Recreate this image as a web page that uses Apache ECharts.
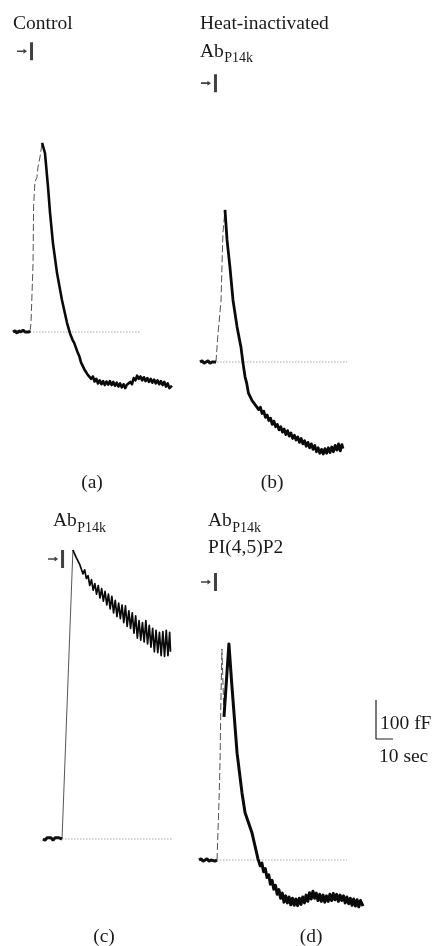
<!DOCTYPE html>
<html><head><meta charset="utf-8">
<script src="https://cdn.jsdelivr.net/npm/echarts@6/dist/echarts.min.js"></script>
<style>html,body{margin:0;padding:0;background:#fff}#c{width:432px;height:946px}</style>
</head><body><div id="c"></div>
<script>
// ---------- DATA (time in s from trace start, capacitance change in fF from baseline) ----------
const baseA = [[0,0],[1.2,3],[2.4,-3],[3.5,3],[4.7,0],[5.9,5],[7.1,0],[8.2,3],[9.4,0],[10,3]];
const riseA = [[10,3],[10.6,23],[11.8,177],[12.1,321],[12.9,385],[14.1,397],[14.7,423],[15.9,449],[17.1,485]];
const decayA = [[17.1,485],[18.8,459],[20.6,372],[21.8,305],[23.5,228],[25.9,151],[28.8,82],[31.8,23],[33.5,-3],
  [35,-20],[36,-28],[37,-40],[38,-52],[39,-62],[40,-78],[41,-80],[42,-96],[43,-94],[44,-110],[45,-106],[46,-120],
  [47,-114],[48,-127],[49,-120],[50,-132],[51,-124],[52,-134],[53,-126],[54,-136],[55,-127],[56,-135],[57,-126],
  [58,-136],[59,-128],[60,-138],[61,-130],[62,-140],[63,-132],[64,-142],[65,-134],[66,-144],[67,-135],[68,-140],
  [69,-128],[70,-134],[71,-118],[72,-124],[73,-112],[74,-120],[75,-114],[76,-124],[77,-116],[78,-126],[79,-118],
  [80,-128],[81,-120],[82,-130],[83,-122],[84,-132],[85,-124],[86,-134],[87,-126],[88,-136],[89,-128],[90,-140],
  [91,-132],[92,-144],[93.5,-138]];
const refA = [10, 74.7];
const stimA = [10.9, 720];

const baseB = [[0,0],[1.2,3],[2.4,-3],[3.5,0],[4.7,3],[5.9,-3],[7.1,0],[8.2,3],[9.4,0]];
const riseB = [[9.4,0],[10,5],[10.6,74],[11.2,100],[12.4,159],[12.9,244],[13.5,331],[14.7,390]];
const decayB = [[14.7,390],[15.9,313],[17.6,244],[19.4,159],[21.8,90],[24.1,38],[25.3,-3],[26.5,-38],[27.5,-55],
  [28.5,-80],[29.5,-82],[30.5,-98],[31.5,-96],[32.5,-110],[33.5,-106],[34.5,-122],[35.5,-116],[36.5,-132],
  [37.5,-126],[38.5,-142],[39.5,-136],[40.5,-150],[41.5,-144],[42.5,-160],[43.5,-152],[44.5,-166],[45.5,-160],
  [46.5,-174],[47.5,-166],[48.5,-180],[49.5,-172],[50.5,-186],[51.5,-176],[52.5,-190],[53.5,-182],[54.5,-196],
  [55.5,-188],[56.5,-200],[57.5,-192],[58.5,-206],[59.5,-196],[60.5,-210],[61.5,-202],[62.5,-216],[63.5,-206],
  [64.5,-220],[65.5,-210],[66.5,-224],[67.5,-214],[68.5,-230],[69.5,-220],[70.5,-234],[71.5,-224],[72.5,-236],
  [73.5,-222],[74.5,-234],[75.5,-220],[76.5,-232],[77.5,-218],[78.5,-230],[79.5,-214],[80.5,-226],[81.5,-210],
  [82.5,-228],[83.5,-212],[84.1,-222]];
const refB = [10, 86.5];
const stimB = [9.1, 715];

const baseC = [[0,0],[1.2,-3],[2.4,3],[3.5,0],[4.7,3],[5.9,-3],[7.1,3],[8.2,0],[9.4,3],[11.2,0]];
const riseC = [[11.2,0],[17.6,741]];
const decayC = [[17.6,741],[18.5,738],[19.5,722],[20.5,726],[21.5,705],[22.5,700],[23.5,680],[24.5,690],[25.5,668],
  [26.5,675],[27.5,650],[28.5,665],[29.5,638],[30.5,655],[31.5,628],[32.5,650],[33.5,618],[34.5,642],[35.5,610],
  [36.5,635],[37.5,600],[38.5,628],[39.5,590],[40.5,622],[41.5,580],[42.5,612],[43.5,570],[44.5,605],[45.5,565],
  [46.5,600],[47.5,555],[48.5,598],[49.5,545],[50.5,585],[51.5,540],[52.5,580],[53.5,528],[54.5,572],[55.5,515],
  [56.5,560],[57.5,510],[58.5,555],[59.5,505],[60.5,560],[61.5,500],[62.5,548],[63.5,492],[64.5,540],[65.5,480],
  [66.5,535],[67.5,478],[68.5,530],[69.5,470],[70.5,532],[71.5,468],[72.5,535],[73.5,470],[74.5,530],[75,480]];
const refC = [11.2, 75.9];
const stimC = [11.5, 718];

const baseD = [[0,0],[1.2,3],[2.4,-3],[3.5,0],[4.7,3],[5.9,-3],[7.1,0],[8.2,3],[9.4,-3],[10.6,0]];
const riseD = [[10.6,0],[11.8,154],[12.4,256],[12.9,410],[13.5,541],[14.7,367]];
const decayD = [[14.7,367],[17.6,554],[19.4,444],[22.4,274],[25.3,172],[27.1,121],[31.2,69],[34.7,3],[36,-15],
  [37,-8],[38,-30],[39,-22],[40,-45],[41,-38],[42,-62],[43,-52],[44,-75],[45,-65],[46,-88],[47,-76],[48,-98],
  [49,-85],[50,-108],[51,-92],[52,-110],[53,-95],[54,-115],[55,-98],[56,-116],[57,-100],[58,-117],[59,-98],
  [60,-114],[61,-95],[62,-110],[63,-90],[64,-106],[65,-84],[66,-100],[67,-80],[68,-98],[69,-85],[70,-104],
  [71,-88],[72,-106],[73,-90],[74,-108],[75,-92],[76,-106],[77,-88],[78,-104],[79,-86],[80,-102],[81,-88],
  [82,-106],[83,-90],[84,-104],[85,-92],[86,-110],[87,-95],[88,-112],[89,-98],[90,-116],[91,-100],[92,-118],
  [93,-102],[94,-120],[95,-104],[96.5,-118]];
const refD = [10.6, 87];
const stimD = [9.7, 713];

// scale bar: 10 sec x 100 fF
const scaleBar = [[0,100],[0,0],[10,0]];
const scaleLabels = ['100 fF', '10 sec'];
const panelLetters = ['(a)', '(b)', '(c)', '(d)'];

// ---------- LAYOUT ----------
const PX_PER_S = 1.7, PX_PER_FF = 0.39, UP = 300, DOWN = 120, W = 170;
const panels = [
  {left:13,  baseY:332, base:baseA, rise:riseA, decay:decayA, ref:refA, stim:stimA, dashed:true,  dw:2.6},
  {left:200, baseY:362, base:baseB, rise:riseB, decay:decayB, ref:refB, stim:stimB, dashed:true,  dw:2.8},
  {left:43,  baseY:839, base:baseC, rise:riseC, decay:decayC, ref:refC, stim:stimC, dashed:false, dw:1.7},
  {left:199, baseY:860, base:baseD, rise:riseD, decay:decayD, ref:refD, stim:stimD, dashed:true,  dw:3}
];
const FONT = '"Liberation Serif", "Times New Roman", serif';
const MAIN = 19.5, SUB = 14;

const grid = [], xAxis = [], yAxis = [], series = [];
const stimPath = 'path://M0,8.2L6.5,8.2L6.5,6.5L10,9L6.5,11.5L6.5,9.8L0,9.8Z M13,0L16,0L16,18L13,18Z';
panels.forEach((p, i) => {
  grid.push({left:p.left, top:p.baseY - UP, width:W, height:UP + DOWN, outerBoundsMode:'none', containLabel:false});
  xAxis.push({type:'value', gridIndex:i, min:0, max:W / PX_PER_S, show:false});
  yAxis.push({type:'value', gridIndex:i, min:-DOWN / PX_PER_FF, max:UP / PX_PER_FF, show:false});
  series.push({type:'line', xAxisIndex:i, yAxisIndex:i, data:[[p.ref[0],0],[p.ref[1],0]], showSymbol:false,
    lineStyle:{color:'#a8a8a8', width:1, type:[1.5,1.5]}, z:1});
  series.push({type:'line', xAxisIndex:i, yAxisIndex:i, data:p.base, showSymbol:false,
    lineStyle:{color:'#111', width:3}, z:3});
  series.push({type:'line', xAxisIndex:i, yAxisIndex:i, data:p.rise, showSymbol:false,
    lineStyle:{color:'#555', width:1, type:p.dashed ? [7,3] : 'solid'}, z:2});
  series.push({type:'line', xAxisIndex:i, yAxisIndex:i, data:p.decay, showSymbol:false,
    lineStyle:{color:'#0a0a0a', width:p.dw, join:'round'}, z:3});
  series.push({type:'scatter', xAxisIndex:i, yAxisIndex:i, data:[p.stim], symbol:stimPath,
    symbolSize:[16,18], symbolOffset:[-6.5,0], itemStyle:{color:'#111'}, z:4});
});
// scale bar grid
grid.push({left:376, top:700, width:10 * PX_PER_S, height:100 * PX_PER_FF, outerBoundsMode:'none', containLabel:false});
xAxis.push({type:'value', gridIndex:4, min:0, max:10, show:false});
yAxis.push({type:'value', gridIndex:4, min:0, max:100, show:false});
series.push({type:'line', xAxisIndex:4, yAxisIndex:4, data:scaleBar, showSymbol:false, clip:false,
  lineStyle:{color:'#222', width:1.2}});

// text measurement for subscripts
const ctx = document.createElement('canvas').getContext('2d');
ctx.font = MAIN + 'px ' + FONT;
const abW = ctx.measureText('Ab').width;

const graphic = [];
function txt(s, x, y, size, align) {
  graphic.push({type:'text', x:x, y:y, style:{text:s, font:size + 'px ' + FONT, fill:'#1a1a1a',
    align:align || 'left', verticalAlign:'middle'}});
}
txt('Control', 13, 23.5, MAIN);
txt('Heat-inactivated', 200, 23.5, MAIN);
[[200,51.5],[53,521],[208,521]].forEach(([x,y]) => { txt('Ab', x, y, MAIN); txt('P14k', x + abW + 0.5, y + 7, SUB); });
txt('PI(4,5)P2', 208, 548, MAIN);
txt(panelLetters[0], 92, 483, MAIN, 'center');
txt(panelLetters[1], 272, 483, MAIN, 'center');
txt(panelLetters[2], 104, 937, MAIN, 'center');
txt(panelLetters[3], 311, 937, MAIN, 'center');
txt(scaleLabels[0], 380, 724, MAIN);
txt(scaleLabels[1], 379, 757, MAIN);

const chart = echarts.init(document.getElementById('c'), null, {renderer:'canvas'});
chart.setOption({animation:false, backgroundColor:'#fff', grid, xAxis, yAxis, series, graphic});
</script></body></html>
